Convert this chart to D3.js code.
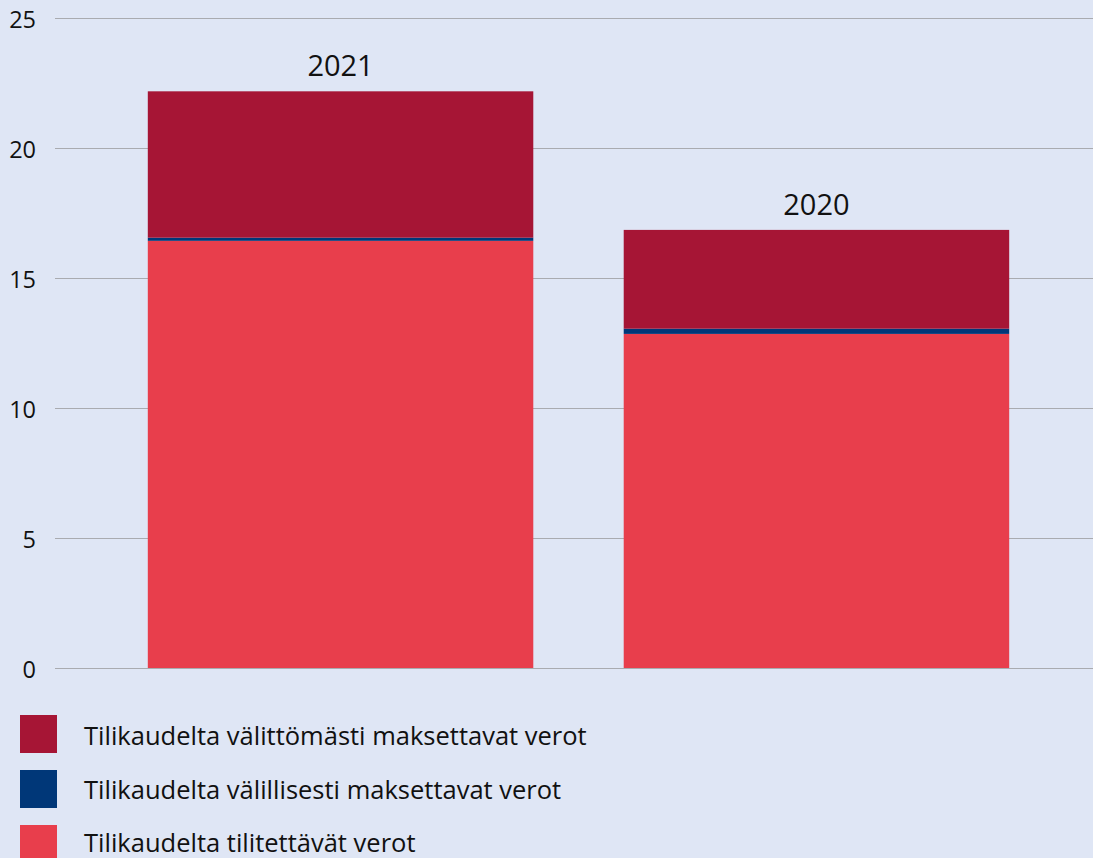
<!DOCTYPE html>
<html>
<head>
<meta charset="utf-8">
<script src="https://cdn.jsdelivr.net/npm/d3@7"></script>
<style>
    html, body { margin: 0; padding: 0; background: #dfe6f5; }
    svg { display: block; font-family: "Open Sans", "Noto Sans", sans-serif; }
</style>
</head>
<body>
<div id="chart"></div>
<script>
// data
const years = ["2021", "2020"];
const seriesNames = [
    "Tilikaudelta tilitettävät verot",
    "Tilikaudelta välillisesti maksettavat verot",
    "Tilikaudelta välittömästi maksettavat verot"
];
const tilitettavat = [16.43, 12.85];
const valillisesti = [0.12, 0.2];
const valittomasti = [5.63, 3.8];
const yTicks = [0, 5, 10, 15, 20, 25];
const colors = ["#e83e4c", "#003778", "#a61535"];

const width = 1093, height = 858;

const svg = d3.select("#chart").append("svg")
    .attr("width", width)
    .attr("height", height);

const x = d3.scaleBand()
    .domain(years)
    .range([55, 1102])
    .paddingInner(0.19)
    .paddingOuter(0.195);

const y = d3.scaleLinear()
    .domain([0, 25])
    .range([668, 18]);

// grid + tick labels
const grid = svg.append("g");
grid.selectAll("line")
    .data(yTicks)
    .enter().append("line")
    .attr("x1", 55)
    .attr("x2", width)
    .attr("y1", d => Math.round(y(d)) + 0.5)
    .attr("y2", d => Math.round(y(d)) + 0.5)
    .attr("stroke", "#a9abb0")
    .attr("stroke-width", 1.2);

grid.selectAll("text")
    .data(yTicks)
    .enter().append("text")
    .attr("x", 36)
    .attr("y", d => y(d) + 10)
    .attr("text-anchor", "end")
    .attr("font-size", 23.5)
    .attr("fill", "#111")
    .text(d => d);

// stacked bars
const rows = years.map((yr, i) => ({
    year: yr,
    s0: tilitettavat[i],
    s1: valillisesti[i],
    s2: valittomasti[i]
}));
const stack = d3.stack().keys(["s0", "s1", "s2"]);
const layers = stack(rows);

svg.append("g")
    .selectAll("g")
    .data(layers)
    .enter().append("g")
    .attr("fill", (d, i) => colors[i])
    .selectAll("rect")
    .data(d => d)
    .enter().append("rect")
    .attr("x", d => x(d.data.year))
    .attr("width", x.bandwidth())
    .attr("y", d => y(d[1]))
    .attr("height", d => y(d[0]) - y(d[1]));

// year labels on top
const totals = rows.map(r => r.s0 + r.s1 + r.s2);
svg.append("g")
    .selectAll("text")
    .data(rows)
    .enter().append("text")
    .attr("x", d => x(d.year) + x.bandwidth() / 2)
    .attr("y", (d, i) => y(totals[i]) - 15)
    .attr("text-anchor", "middle")
    .attr("font-size", 29)
    .attr("fill", "#111")
    .text(d => d.year);

// legend
const legendOrder = [2, 1, 0];
const legend = svg.append("g");

legend.selectAll("rect")
    .data(legendOrder)
    .enter().append("rect")
    .attr("x", 20)
    .attr("y", (d, i) => 715 + i * 55)
    .attr("width", 37)
    .attr("height", 38)
    .attr("fill", d => colors[d]);

legend.selectAll("text")
    .data(legendOrder)
    .enter().append("text")
    .attr("x", 84)
    .attr("y", (d, i) => 745 + i * 53.5)
    .attr("font-size", 25.5)
    .attr("fill", "#111")
    .text(d => seriesNames[d]);
</script>
</body>
</html>
